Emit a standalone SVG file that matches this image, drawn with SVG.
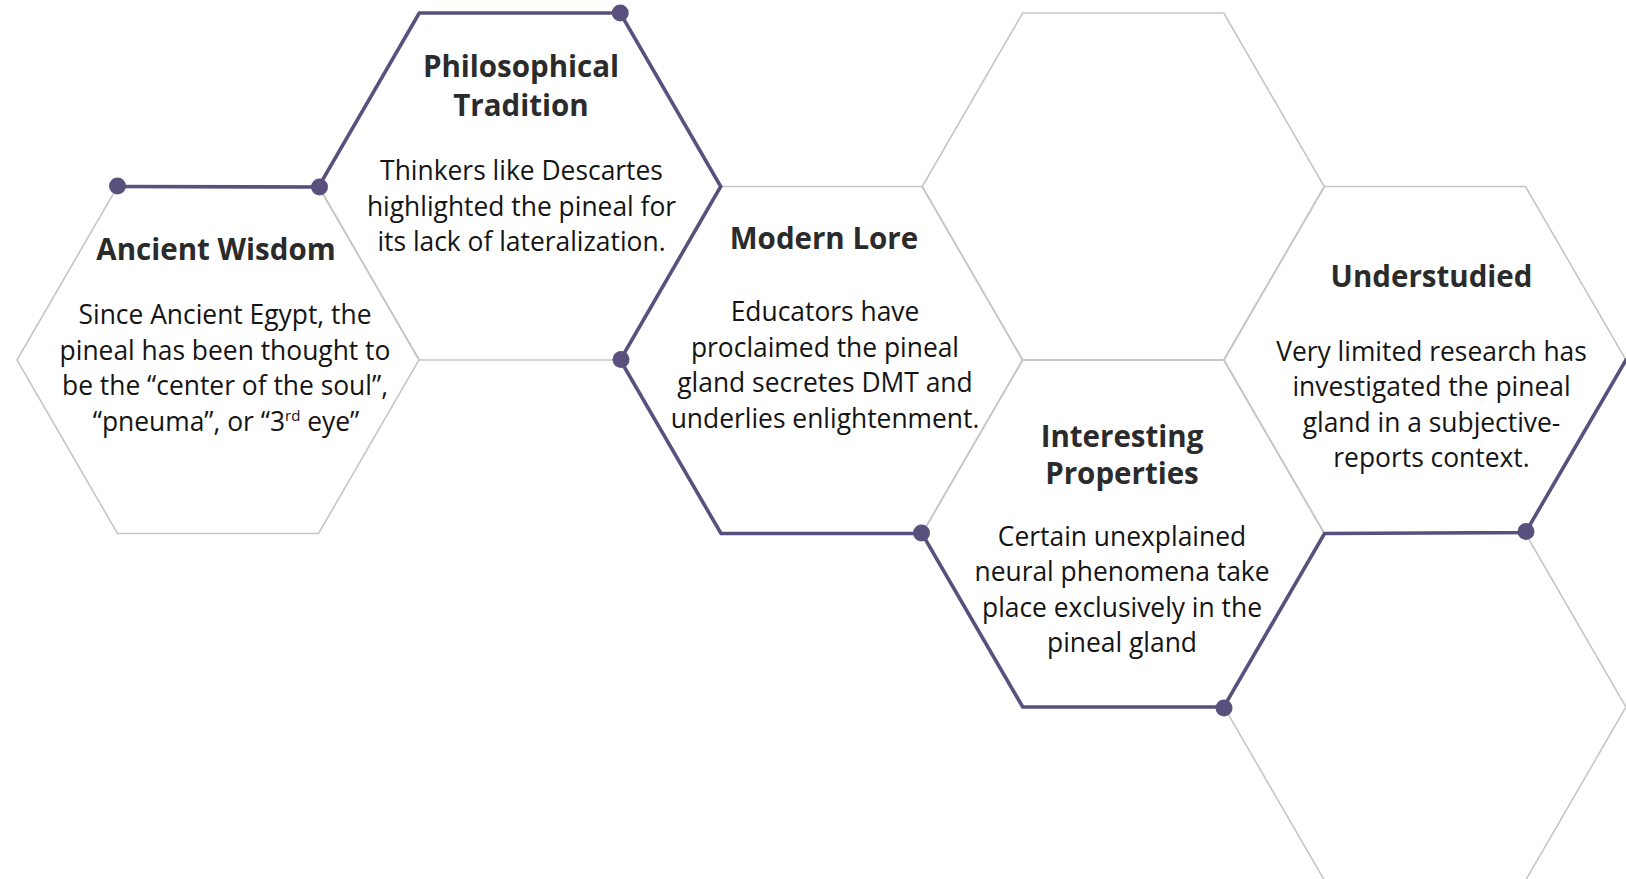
<svg xmlns="http://www.w3.org/2000/svg" width="1626" height="879" viewBox="0 0 1626 879">
  <defs>
    <style>
      .hex { fill: none; stroke: #c6c6c6; stroke-width: 1.6; stroke-linejoin: miter; }
      .trail { fill: none; stroke: #5a507e; stroke-width: 3.6; stroke-linejoin: miter; stroke-linecap: round; }
      .dot { fill: #5a507e; }
      .title { font-family: "Open Sans", "Liberation Sans", sans-serif; font-weight: 700; font-size: 29.5px; fill: #2b2b2b; text-anchor: middle; }
      .body { font-family: "Open Sans", "Liberation Sans", sans-serif; font-weight: 400; font-size: 26.4px; fill: #141414; text-anchor: middle; }
      .sup { font-size: 15px; }
    </style>
  </defs>
  <rect width="1626" height="879" fill="#ffffff"/>

  <!-- Honeycomb cells: flat-top hexagons, radius 201, half-height 173.5 -->
  <g id="cell-ancient-wisdom">
    <polygon class="hex" points="17,360 117.5,186.5 318.5,186.5 419,360 318.5,533.5 117.5,533.5"/>
    <text class="title" x="216" y="260">Ancient Wisdom</text>
    <text class="body" x="225" y="324">Since Ancient Egypt, the</text>
    <text class="body" x="225" y="359.5">pineal has been thought to</text>
    <text class="body" x="225" y="395">be the “center of the soul”,</text>
    <text class="body" x="226" y="430.5">“pneuma”, or “3<tspan class="sup" dy="-10">rd</tspan><tspan dy="10"> eye”</tspan></text>
  </g>

  <g id="cell-philosophical-tradition">
    <polygon class="hex" points="318.75,186.5 419.25,13 620.25,13 720.75,186.5 620.25,360 419.25,360"/>
    <text class="title" x="521" y="77">Philosophical</text>
    <text class="title" x="521" y="115.5">Tradition</text>
    <text class="body" x="521.5" y="180">Thinkers like Descartes</text>
    <text class="body" x="521.5" y="215.5">highlighted the pineal for</text>
    <text class="body" x="521.5" y="251">its lack of lateralization.</text>
  </g>

  <g id="cell-modern-lore">
    <polygon class="hex" points="620.5,360 721,186.5 922,186.5 1022.5,360 922,533.5 721,533.5"/>
    <text class="title" x="824" y="248.5">Modern Lore</text>
    <text class="body" x="825" y="321">Educators have</text>
    <text class="body" x="825" y="356.5">proclaimed the pineal</text>
    <text class="body" x="825" y="392">gland secretes DMT and</text>
    <text class="body" x="825" y="427.5">underlies enlightenment.</text>
  </g>

  <g id="cell-empty-top">
    <polygon class="hex" points="922.25,186.5 1022.75,13 1223.75,13 1324.25,186.5 1223.75,360 1022.75,360"/>
  </g>

  <g id="cell-interesting-properties">
    <polygon class="hex" points="922.25,533.5 1022.75,360 1223.75,360 1324.25,533.5 1223.75,707 1022.75,707"/>
    <text class="title" x="1122" y="446.5">Interesting</text>
    <text class="title" x="1122" y="484">Properties</text>
    <text class="body" x="1122" y="545.5">Certain unexplained</text>
    <text class="body" x="1122" y="581">neural phenomena take</text>
    <text class="body" x="1122" y="616.5">place exclusively in the</text>
    <text class="body" x="1122" y="652">pineal gland</text>
  </g>

  <g id="cell-understudied">
    <polygon class="hex" points="1224,360 1324.5,186.5 1525.5,186.5 1626,360 1525.5,533.5 1324.5,533.5"/>
    <text class="title" x="1431.5" y="287">Understudied</text>
    <text class="body" x="1431.5" y="360.5">Very limited research has</text>
    <text class="body" x="1431.5" y="396">investigated the pineal</text>
    <text class="body" x="1431.5" y="431.5">gland in a subjective-</text>
    <text class="body" x="1431.5" y="467">reports context.</text>
  </g>

  <g id="cell-empty-bottom">
    <polygon class="hex" points="1224,707 1324.5,533.5 1525.5,533.5 1626,707 1525.5,880.5 1324.5,880.5"/>
  </g>

  <!-- Highlighted route running along the cell edges -->
  <g id="connectors">
    <polyline class="trail" points="117.5,186.5 318.5,187 419.25,13 620.25,13 720.75,186.5 620.25,360 721,533.5 922,533.5 1022.75,707 1223.75,707 1324.5,533.5 1525.5,532.5 1626,360"/>
    <circle class="dot" cx="117.5" cy="186" r="8.5"/>
    <circle class="dot" cx="319.5" cy="187" r="8.5"/>
    <circle class="dot" cx="620.25" cy="13" r="8.5"/>
    <circle class="dot" cx="621" cy="359.5" r="8.5"/>
    <circle class="dot" cx="921.5" cy="533" r="8.5"/>
    <circle class="dot" cx="1224" cy="708" r="8.5"/>
    <circle class="dot" cx="1526" cy="531.5" r="8.5"/>
  </g>
</svg>
